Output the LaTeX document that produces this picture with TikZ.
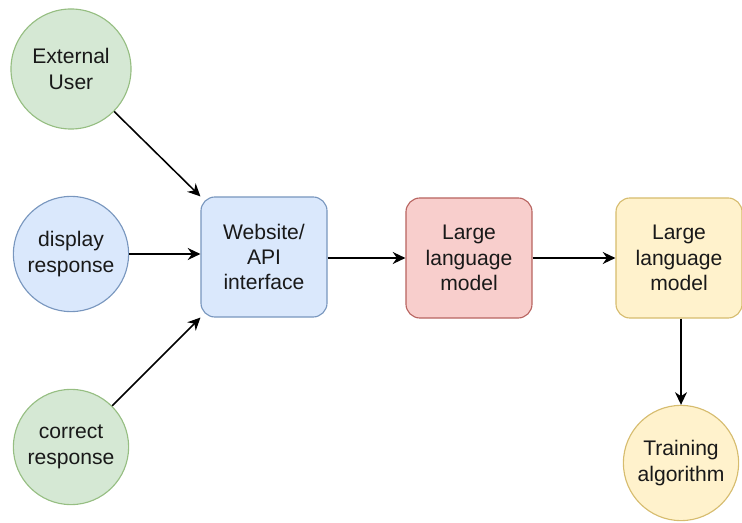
\documentclass[tikz,border=0pt]{standalone}
\usepackage{fontspec}
\setmainfont{Liberation Sans}
\usetikzlibrary{arrows.meta}
\definecolor{llmgreen}{RGB}{213,232,212}
\definecolor{llmgreenline}{RGB}{150,190,130}
\definecolor{llmblue}{RGB}{218,232,252}
\definecolor{llmblueline}{RGB}{120,150,190}
\definecolor{llmred}{RGB}{248,206,204}
\definecolor{llmredline}{RGB}{184,100,96}
\definecolor{llmyellow}{RGB}{255,242,204}
\definecolor{llmyellowline}{RGB}{214,188,110}

\begin{document}
\begin{tikzpicture}[x=0.025cm,y=-0.025cm,
        >={Stealth[length=9pt,width=8.5pt]},
        every node/.style={font=\fontsize{15}{18}\selectfont,align=center,text=black!90},
        actor/.style={circle,minimum size=2.88cm,inner sep=0pt,line width=0.8pt},
        block/.style={rectangle,rounded corners=0.35cm,minimum width=3.15cm,minimum height=3cm,inner sep=0pt,line width=0.8pt},
        flow/.style={->,line width=1.1pt}]
        \useasboundingbox (0,0) rectangle (742,523);
        \node[actor,fill=llmgreen,draw=llmgreenline,minimum size=3cm] (user) at (71,69) {External\\User};
        \node[actor,fill=llmblue,draw=llmblueline] (display) at (71,254) {display\\response};
        \node[actor,fill=llmgreen,draw=llmgreenline] (correct) at (71,447) {correct\\response};
        \node[block,fill=llmblue,draw=llmblueline] (web) at (264,257) {Website/\\API\\interface};
        \node[block,fill=llmred,draw=llmredline] (model) at (469,258) {Large\\language\\model};
        \node[block,fill=llmyellow,draw=llmyellowline] (tuned) at (679,258) {Large\\language\\model};
        \node[actor,fill=llmyellow,draw=llmyellowline] (train) at (681,463) {Training\\algorithm};
        \draw[flow] (user) -- (web.north west);
        \draw[flow] (display.east) -- (display.east -| web.west);
        \draw[flow] (correct) -- (web.south west);
        \draw[flow] (web.east |- model.west) -- (model.west);
        \draw[flow] (model.east) -- (tuned.west);
        \draw[flow] (tuned.south -| train.north) -- (train.north);
      \end{tikzpicture}
\end{document}
